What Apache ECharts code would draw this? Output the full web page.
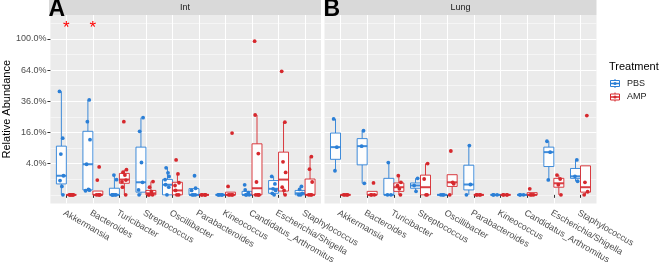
<!DOCTYPE html>
<html>
<head>
<meta charset="utf-8">
<script src="https://cdn.jsdelivr.net/npm/echarts@6/dist/echarts.min.js"></script>
<style>
  html, body { margin: 0; padding: 0; background: #fff; }
  #chart { width: 660px; height: 266px; }
</style>
</head>
<body>
<div id="chart"></div>
<script>
const categories = ['Akkermansia', 'Bacteroides', 'Turicibacter', 'Streptococcus', 'Oscillibacter',
  'Parabacteroides', 'Kineococcus', 'Candidatus_Arthromitus', 'Escherichia/Shigella', 'Staphylococcus'];
const panels = ['Int', 'Lung'];
const treatments = ['PBS', 'AMP'];
const yTicks = [0.04, 0.16, 0.36, 0.64, 1.0];
const starCategories = ['Akkermansia', 'Bacteroides'];
const starLevel = 1.19;

// box stats per category: [lower whisker, q1, median, q3, upper whisker] (proportions)
const intPbsBox = [
  [0, 0.0049, 0.015, 0.0975, 0.44], [0.0007, 0.001, 0.0385, 0.166, 0.37], [0, 0, 0, 0.0018, 0.016],
  [0, 0.0003, 0.0065, 0.0936, 0.245], [0, 0, 0.0042, 0.0098, 0.03], [0, 0, 0, 0.0016, 0.0016],
  [0, 0, 0, 0, 0], [0, 0, 0, 0.0005, 0.0005], [0, 0.0001, 0.0015, 0.0084, 0.014], [0, 0, 0.0001, 0.0008, 0.0029]
];
const intAmpBox = [
  [0, 0, 0, 0, 0], [0, 0, 0, 0.0006, 0.0006], [0, 0.0055, 0.0096, 0.0189, 0.026],
  [0, 0, 0.0001, 0.0008, 0.0072], [0, 0, 0.0008, 0.0065, 0.018], [0, 0, 0, 0, 0],
  [0, 0, 0, 0.0003, 0.0003], [0, 0, 0.0018, 0.107, 0.262], [0, 0.0006, 0.0096, 0.075, 0.217], [0, 0, 0, 0.0103, 0.06]
];
const lungPbsBox = [
  [0.0239, 0.0519, 0.0936, 0.157, 0.237], [0.0055, 0.037, 0.0975, 0.13, 0.169], [0, 0, 0, 0.0112, 0.0428],
  [0.0005, 0.0018, 0.0036, 0.0058, 0.0112], [0, 0, 0, 0, 0], [0, 0.001, 0.0044, 0.0361, 0.1],
  [0, 0, 0, 0, 0], [0, 0, 0, 0, 0], [0.0091, 0.033, 0.075, 0.0936, 0.118], [0.0076, 0.0112, 0.0141, 0.0286, 0.05]
];
const lungAmpBox = [
  [0, 0, 0, 0, 0], [0, 0, 0, 0.0005, 0.0005], [0, 0.0005, 0.0024, 0.0058, 0.0151],
  [0, 0, 0.0024, 0.016, 0.0403], [0, 0.0029, 0.0065, 0.0167, 0.0167], [0, 0, 0, 0, 0],
  [0, 0, 0, 0, 0], [0, 0, 0, 0.0002, 0.0002], [0, 0.0024, 0.0055, 0.0112, 0.016], [0, 0.0003, 0.0024, 0.0346, 0.0346]
];

// individual samples per category (proportions)
const intPbsPts = [
  [0.44, 0.132, 0.0685, 0.015, 0.0084, 0.0029, 0], [0.37, 0.22, 0.125, 0.0385, 0.0012, 0.0009, 0.0007],
  [0.016, 0.0095, 0, 0, 0, 0, 0], [0.245, 0.166, 0.043, 0.0065, 0.001, 0], [0.03, 0.02, 0.014, 0.0095, 0.0042, 0.0024, 0],
  [0.015, 0.0018, 0.0008, 0, 0, 0], [0, 0, 0, 0, 0], [0.0041, 0.001, 0.0002, 0, 0, 0],
  [0.014, 0.0049, 0.0015, 0.0008, 0.0001, 0], [0.0029, 0.0012, 0.0001, 0, 0]
];
const intAmpPts = [
  [0, 0, 0, 0, 0, 0], [0.032, 0.009, 0, 0, 0, 0], [0.22, 0.026, 0.021, 0.016, 0.009, 0.007, 0.0024, 0],
  [0.0072, 0.0024, 0.0004, 0, 0, 0], [0.05, 0.018, 0.006, 0.0036, 0.0008, 0, 0], [0, 0, 0, 0, 0],
  [0.157, 0.0029, 0, 0, 0, 0], [0.97, 0.262, 0.07, 0.0068, 0, 0, 0, 0],
  [0.627, 0.217, 0.0447, 0.0207, 0.0024, 0.0008, 0], [0.06, 0.027, 0.0068, 0, 0, 0]
];
const lungPbsPts = [
  [0.237, 0.0936, 0.0239], [0.169, 0.0975, 0.0055], [0.0428, 0, 0], [0.0112, 0.0036, 0.0005], [0, 0, 0],
  [0.1, 0.0044, 0], [0, 0, 0], [0, 0, 0], [0.118, 0.075, 0.0091], [0.05, 0.0141, 0.0076]
];
const lungAmpPts = [
  [0, 0, 0, 0], [0.0058, 0, 0, 0], [0.0151, 0.0065, 0.0035, 0.0015, 0], [0.0403, 0.0103, 0, 0],
  [0.079, 0.0065, 0.005, 0], [0, 0, 0, 0], [0, 0, 0, 0], [0.0015, 0, 0, 0],
  [0.016, 0.0103, 0.0041, 0], [0.258, 0.0065, 0.0004, 0]
];

const colors = ['#2b7fd6', '#d6282d'];
const dodge = [-0.1875, 0.1875];
const jitter = [-0.07, 0.05, -0.02, 0.08, -0.05, 0.02, 0.06, -0.09];
const yMin = -0.055, yMax = 1.153;
const majorY = yTicks.map(Math.sqrt);
const minorY = [0, 0.1, 0.3, 0.5, 0.7, 0.9, 1.1];
const catPos = categories.map((c, i) => i + 1);

const groups = [
  { panel: 0, t: 0, box: intPbsBox, pts: intPbsPts },
  { panel: 0, t: 1, box: intAmpBox, pts: intAmpPts },
  { panel: 1, t: 0, box: lungPbsBox, pts: lungPbsPts },
  { panel: 1, t: 1, box: lungAmpBox, pts: lungAmpPts },
];

const chart = echarts.init(document.getElementById('chart'), null, { renderer: 'canvas' });

const grids = [
  { left: 49, top: 15, width: 272, height: 191 },
  { left: 324.5, top: 15, width: 272, height: 191 },
].map(g => Object.assign(g, { show: true, backgroundColor: '#ebebeb', borderWidth: 0 }));

const xAxes = panels.map((p, i) => ({
  gridIndex: i, type: 'value', min: 0.4, max: 10.6,
  axisLine: { show: false },
  axisTick: { show: true, length: 3, customValues: catPos, lineStyle: { color: '#333', width: 1 } },
  axisLabel: {
    customValues: catPos, formatter: v => categories[Math.round(v) - 1],
    rotate: -30, align: 'left', verticalAlign: 'top', margin: 5,
    fontSize: 9, color: '#4d4d4d', fontFamily: 'Liberation Sans'
  },
  splitLine: { show: true, lineStyle: { color: '#fff', width: 1 } },
}));

const yAxes = [];
panels.forEach((p, i) => {
  yAxes.push({
    gridIndex: i, type: 'value', min: yMin, max: yMax,
    axisLine: { show: false },
    axisTick: { show: i === 0, length: 3, customValues: majorY, lineStyle: { color: '#333', width: 1 } },
    axisLabel: {
      show: i === 0, customValues: majorY, margin: 4,
      formatter: v => (v * v * 100).toFixed(1) + '%',
      fontSize: 9, color: '#4d4d4d', fontFamily: 'Liberation Sans'
    },
    splitLine: { show: true, lineStyle: { color: '#fff', width: 1 } },
    name: i === 0 ? 'Relative Abundance' : '', nameLocation: 'middle', nameGap: 36,
    nameTextStyle: { fontSize: 11, color: '#000', fontFamily: 'Liberation Sans' },
  });
  yAxes.push({
    gridIndex: i, type: 'value', min: yMin, max: yMax,
    axisLine: { show: false },
    axisTick: { show: false, customValues: minorY },
    axisLabel: { show: false, customValues: minorY },
    splitLine: { show: true, lineStyle: { color: '#fff', width: 0.5 } },
  });
});

const series = [];
groups.forEach(g => {
  const c = colors[g.t];
  const boxData = g.box.map((b, ci) => [ci + 1 + dodge[g.t]].concat(b.map(Math.sqrt)));
  series.push({
    type: 'custom', name: treatments[g.t], xAxisIndex: g.panel, yAxisIndex: g.panel * 2, z: 2,
    encode: { x: 0, y: [1, 2, 3, 4, 5] },
    data: boxData,
    renderItem: (params, api) => {
      const x = api.value(0);
      const lo = api.coord([x, api.value(1)]);
      const q1 = api.coord([x, api.value(2)]);
      const md = api.coord([x, api.value(3)]);
      const q3 = api.coord([x, api.value(4)]);
      const hi = api.coord([x, api.value(5)]);
      const w = api.size([0.375, 0])[0];
      const left = lo[0] - w / 2;
      const st = { stroke: c, lineWidth: 1, opacity: 0.9 };
      return {
        type: 'group', children: [
          { type: 'line', shape: { x1: lo[0], y1: lo[1], x2: q1[0], y2: q1[1] }, style: st },
          { type: 'line', shape: { x1: q3[0], y1: q3[1], x2: hi[0], y2: hi[1] }, style: st },
          { type: 'rect', shape: { x: left, y: q3[1], width: w, height: q1[1] - q3[1] },
            style: { fill: '#fff', stroke: c, lineWidth: 1, opacity: 0.9 } },
          { type: 'line', shape: { x1: left, y1: md[1], x2: left + w, y2: md[1] },
            style: { stroke: c, lineWidth: 2, opacity: 0.9 } },
        ]
      };
    },
    silent: true,
  });
  const ptData = [];
  g.pts.forEach((list, ci) => {
    list.forEach((v, k) => {
      ptData.push([ci + 1 + dodge[g.t] + jitter[(k + ci) % jitter.length], Math.sqrt(v)]);
    });
  });
  series.push({
    type: 'scatter', name: treatments[g.t], xAxisIndex: g.panel, yAxisIndex: g.panel * 2, z: 3,
    symbol: 'circle', symbolSize: 3.8, data: ptData,
    itemStyle: { color: c, opacity: 1 }, silent: true,
  });
});

series.push({
  type: 'custom', xAxisIndex: 0, yAxisIndex: 0, z: 4, silent: true,
  data: starCategories.map(n => [categories.indexOf(n) + 1, Math.sqrt(starLevel)]),
  renderItem: (params, api) => {
    const p = api.coord([api.value(0), api.value(1)]);
    // glyph '*' sits high in its em box, nudge it down to centre on the point
    return {
      type: 'text', x: p[0], y: p[1] + 4,
      style: { text: '*', fill: '#ff0000', fontSize: 17, fontFamily: 'Liberation Sans',
        align: 'center', verticalAlign: 'middle' }
    };
  },
});

const legendItems = treatments.map((t, i) => {
  const cy = 83.5 + i * 13.5;
  const c = colors[i];
  return [
    { type: 'line', shape: { x1: 615, y1: cy - 4.5, x2: 615, y2: cy + 4.5 }, style: { stroke: c, lineWidth: 1 } },
    { type: 'rect', shape: { x: 610.5, y: cy - 3, width: 9, height: 6 }, style: { fill: '#fff', stroke: c, lineWidth: 1 } },
    { type: 'line', shape: { x1: 610.5, y1: cy, x2: 619.5, y2: cy }, style: { stroke: c, lineWidth: 1.5 } },
    { type: 'circle', shape: { cx: 615, cy: cy, r: 1.6 }, style: { fill: c } },
    { type: 'text', x: 627, y: cy, style: { text: t, fontSize: 9, fill: '#1a1a1a', fontFamily: 'Liberation Sans', verticalAlign: 'middle' } },
  ];
}).flat();

chart.setOption({
  animation: false,
  backgroundColor: '#fff',
  grid: grids,
  xAxis: xAxes,
  yAxis: yAxes,
  series: series,
  graphic: [
    { type: 'rect', shape: { x: 49, y: 0, width: 272, height: 15 }, style: { fill: '#d9d9d9' } },
    { type: 'rect', shape: { x: 324.5, y: 0, width: 272, height: 15 }, style: { fill: '#d9d9d9' } },
    { type: 'text', x: 185, y: 7.5, style: { text: panels[0], fontSize: 9, fill: '#1a1a1a', fontFamily: 'Liberation Sans', align: 'center', verticalAlign: 'middle' } },
    { type: 'text', x: 460.5, y: 7.5, style: { text: panels[1], fontSize: 9, fill: '#1a1a1a', fontFamily: 'Liberation Sans', align: 'center', verticalAlign: 'middle' } },
    { type: 'text', x: 48.5, y: 21, z: 10, style: { text: 'A', fontSize: 23, fontWeight: 'bold', fill: '#000', fontFamily: 'Liberation Sans', verticalAlign: 'bottom' } },
    { type: 'text', x: 323.5, y: 21, z: 10, style: { text: 'B', fontSize: 23, fontWeight: 'bold', fill: '#000', fontFamily: 'Liberation Sans', verticalAlign: 'bottom' } },
    { type: 'text', x: 609, y: 67, style: { text: 'Treatment', fontSize: 11, fill: '#000', fontFamily: 'Liberation Sans', verticalAlign: 'middle' } },
  ].concat(legendItems),
});
</script>
</body>
</html>
